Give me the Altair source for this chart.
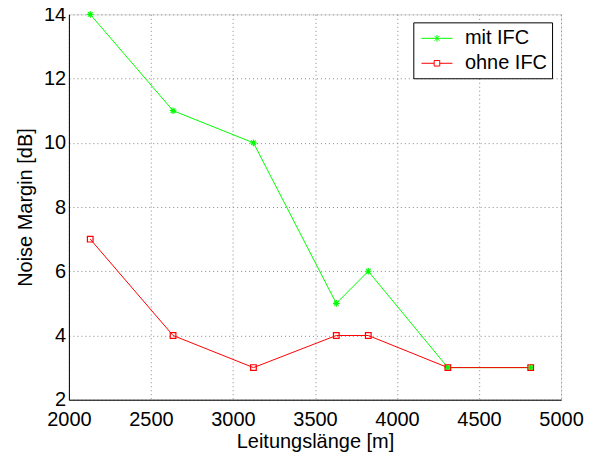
import altair as alt
import pandas as pd

lengths = [2130, 2635, 3125, 3630, 3825, 4310, 4815]
mit_ifc = [14, 11, 10, 5, 6, 3, 3]
ohne_ifc = [7, 4, 3, 4, 4, 3, 3]
series_names = ["mit IFC", "ohne IFC"]
series_colors = ["#00ff00", "#ff0000"]
x_ticks = [2000, 2500, 3000, 3500, 4000, 4500, 5000]
y_ticks = [2, 4, 6, 8, 10, 12, 14]

rows = []
for name, vals in zip(series_names, [mit_ifc, ohne_ifc]):
    for i, (x, y) in enumerate(zip(lengths, vals)):
        rows.append({"len": x, "val": y, "series": name, "order": i})
df = pd.DataFrame(rows)

FONT = "Liberation Sans"
star = "M-1,0H1M0,-1V1M-0.7,-0.7L0.7,0.7M-0.7,0.7L0.7,-0.7"
leg_star = "M-1.5,0H1.5M0,-0.32V0.32M-0.23,-0.23L0.23,0.23M-0.23,0.23L0.23,-0.23"
leg_square = "M-1.5,0H-0.27M0.27,0H1.5M-0.27,-0.27H0.27V0.27H-0.27Z"

def cscale():
    return alt.Scale(domain=series_names, range=series_colors)

x_enc = alt.X("len:Q", scale=alt.Scale(domain=[2000, 5000], nice=False, zero=False),
              axis=alt.Axis(values=x_ticks, title="Leitungslänge [m]", grid=True,
                            gridDash=[1, 3], gridColor="#888", gridWidth=1,
                            domainColor="black", ticks=False,
                            labelPadding=9.5, labelFlush=False, labelFontSize=20,
                            labelFont=FONT, labelColor="black", titleFont=FONT,
                            titleFontSize=20, titleFontWeight="normal", titleColor="black",
                            titleY=48, titleBaseline="alphabetic", format="d"))
y_enc = alt.Y("val:Q", scale=alt.Scale(domain=[2, 14], nice=False, zero=False),
              axis=alt.Axis(values=y_ticks, title="Noise Margin [dB]", grid=True,
                            gridDash=[1, 3], gridColor="#888", gridWidth=1,
                            domainColor="black", ticks=False,
                            labelPadding=3.3, labelFlush=False, labelFontSize=20,
                            labelFont=FONT, labelColor="black", titleFont=FONT,
                            titleFontSize=20, titleFontWeight="normal", titleColor="black",
                            titleX=-37, titleBaseline="alphabetic"))

lines = alt.Chart(df).mark_line(strokeWidth=1).encode(
    x=x_enc, y=y_enc,
    color=alt.Color("series:N", scale=cscale(), legend=None),
    order="order:O",
)

points = alt.Chart(df).mark_point(filled=False, strokeWidth=1.2, opacity=1).encode(
    x=alt.X("len:Q"), y=alt.Y("val:Q"),
    color=alt.Color("series:N", scale=cscale(), legend=None),
    shape=alt.Shape("series:N", scale=alt.Scale(domain=series_names, range=[star, "square"]),
                    legend=None),
    size=alt.Size("series:N", scale=alt.Scale(domain=series_names, range=[44, 32]), legend=None),
)

leg = alt.Legend(title=None, orient="none", legendX=345, legendY=8,
                 fillColor="white", strokeColor="black",
                 padding=5, labelFont=FONT, labelFontSize=20,
                 labelColor="black", symbolSize=427, symbolOpacity=1,
                 symbolStrokeWidth=1, symbolOffset=7.7, symbolFillColor="transparent",
                 labelOffset=17, rowPadding=4)

legend_layer = alt.Chart(df).mark_point(filled=False, opacity=0, size=427, strokeWidth=1).encode(
    x=alt.X("len:Q"), y=alt.Y("val:Q"),
    color=alt.Color("series:N", scale=cscale(), legend=leg),
    shape=alt.Shape("series:N", scale=alt.Scale(domain=series_names, range=[leg_star, leg_square]),
                    legend=leg),
)

chart = alt.layer(lines, points, legend_layer).resolve_scale(
    shape="independent", color="independent"
).resolve_legend(color="independent", shape="independent").properties(
    width=493, height=386,
    autosize=alt.AutoSizeParams(type="none"),
    padding={"left": 61, "top": 6, "right": 25, "bottom": 52},
).configure_view(stroke="black", strokeWidth=1).configure(background="white")

chart.save("out.html", embed_options={"renderer": "svg", "actions": False})
